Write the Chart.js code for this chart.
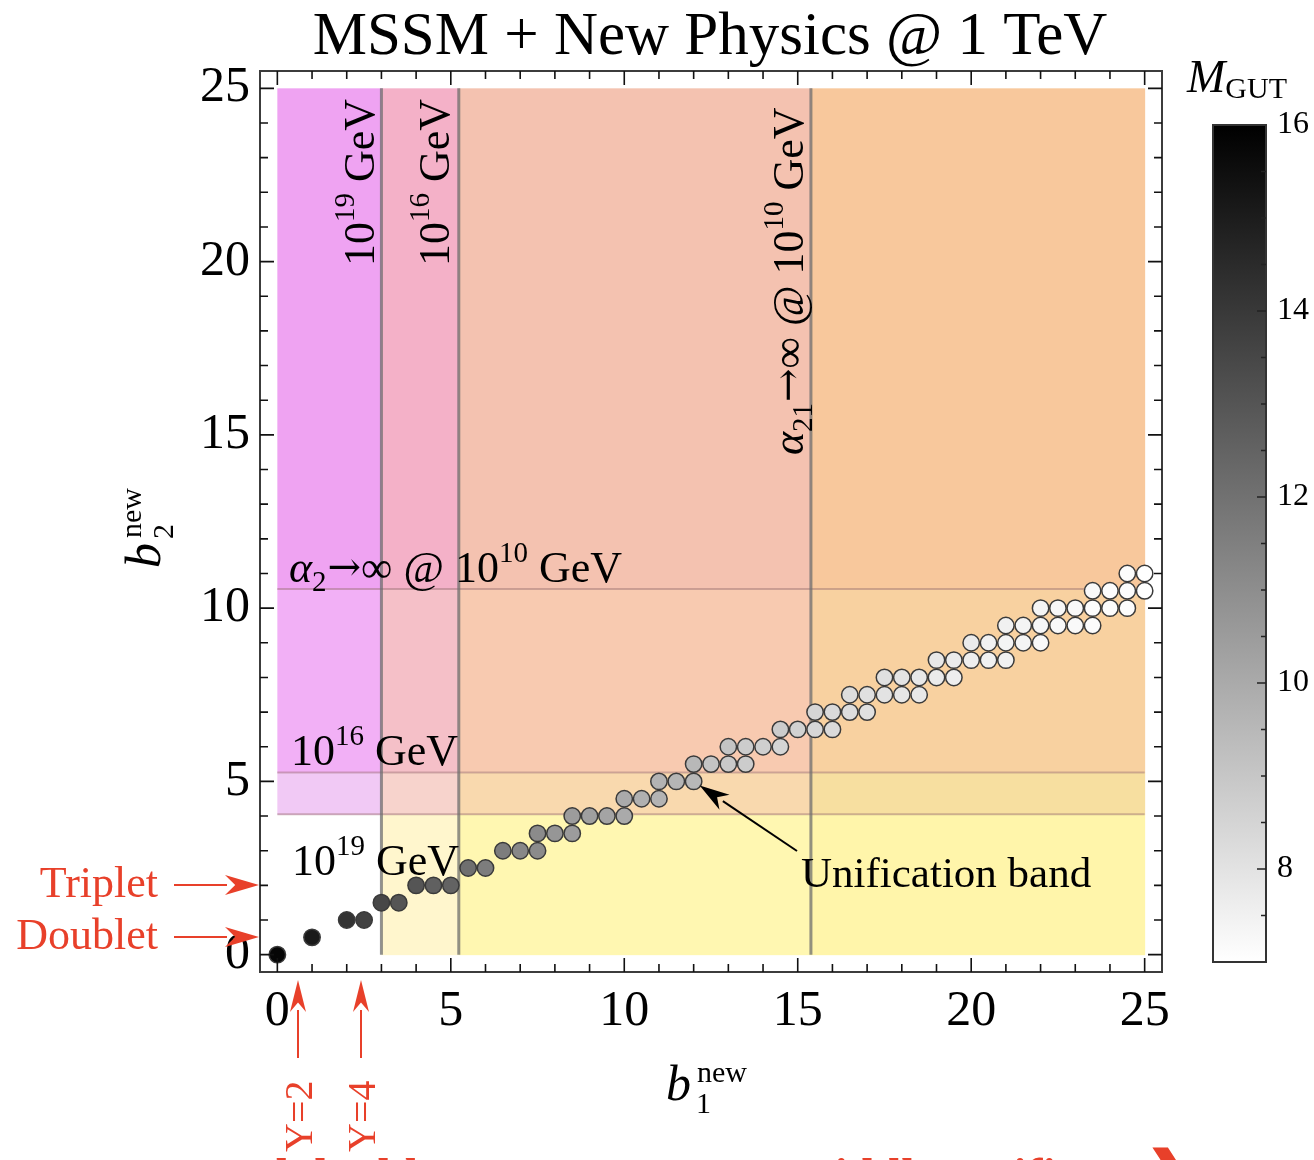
<!DOCTYPE html>
<html><head><meta charset="utf-8">
<script src="https://cdn.jsdelivr.net/npm/chart.js@4.4.1/dist/chart.umd.min.js"></script>
<style>html,body{margin:0;padding:0;background:#fff;overflow:hidden}canvas{display:block}</style>
</head><body>
<canvas id="c" width="1314" height="1160"></canvas>
<script>
// ---- data ----
const b1 = [0, 1, 2,2.5, 3,3.5, 4,4.5,5, 5.5,6, 6.5,7,7.5, 7.5,8,8.5, 8.5,9,9.5,10, 10,10.5,11, 11,11.5,12,
  12,12.5,13,13.5, 13,13.5,14,14.5, 14.5,15,15.5,16, 15.5,16,16.5,17, 16.5,17,17.5,18,18.5,
  17.5,18,18.5,19,19.5, 19,19.5,20,20.5,21, 20,20.5,21,21.5,22, 21,21.5,22,22.5,23,23.5,
  22,22.5,23,23.5,24,24.5, 23.5,24,24.5,25, 24.5,25];
const b2 = [0, 0.5, 1,1, 1.5,1.5, 2,2,2, 2.5,2.5, 3,3,3, 3.5,3.5,3.5, 4,4,4,4, 4.5,4.5,4.5, 5,5,5,
  5.5,5.5,5.5,5.5, 6,6,6,6, 6.5,6.5,6.5,6.5, 7,7,7,7, 7.5,7.5,7.5,7.5,7.5,
  8,8,8,8,8, 8.5,8.5,8.5,8.5,8.5, 9,9,9,9,9, 9.5,9.5,9.5,9.5,9.5,9.5,
  10,10,10,10,10,10, 10.5,10.5,10.5,10.5, 11,11];
const mgut = [15.8, 15.1, 14.2,13.7, 13.5,13.0, 13.0,12.6,12.5, 12.1,11.6, 11.6,11.2,11.1, 11.1,10.7,10.5,
  10.5,10.4,10.2,10.0, 10.0,9.8,9.7, 9.7,9.6,9.5, 9.5,9.1,8.9,8.8, 9.1,8.8,8.7,8.5, 8.8,8.6,8.4,8.3,
  8.5,8.3,8.2,8.1, 8.2,8.1,8.0,7.9,7.8, 8.1,8.0,7.8,7.7,7.6, 7.8,7.7,7.6,7.5,7.5, 7.7,7.5,7.4,7.4,7.2,
  7.5,7.4,7.3,7.2,7.2,7.1, 7.4,7.3,7.2,7.1,7.1,7.1, 7.2,7.1,7.1,7.0, 7.1,7.0];
const xTicks = [0,5,10,15,20,25];
const yTicks = [0,5,10,15,20,25];
const cbTicks = [8,10,12,14,16];
const cbRange = [7,16];
const vLines = [3.0, 5.23, 15.38];
const hLines = [4.05, 5.26, 10.55];
const regionX = [0, 3.0, 5.23, 15.38, 25];
const regionY = [0, 4.05, 5.26, 10.55, 25];
const regionColors = [
  ['#ffffff','#fff6cd','#fff7b1','#fff5aa'],
  ['#f1c9f5','#f7d3cc','#f9d9ae','#f7dfa0'],
  ['#f2b0f6','#f5c0c8','#f8cab0','#f8d1a0'],
  ['#efa3f2','#f4b1c8','#f4c2b0','#f8c89c']
];
const titleText = 'MSSM + New Physics @ 1 TeV';

// ---- helpers ----
const SERIF = '"Liberation Serif", "DejaVu Serif", serif';
function grayFor(m){
  let g = Math.round(255*(cbRange[1]-m)/(cbRange[1]-cbRange[0]));
  g = Math.max(0, Math.min(255, g));
  return 'rgb('+g+','+g+','+g+')';
}
function rich(ctx, parts, x, y){
  let cx = x;
  for (const p of parts){
    ctx.font = (p.it?'italic ':'') + (p.b?'bold ':'') + p.s + 'px ' + (p.f || SERIF);
    ctx.fillText(p.t, cx, y + (p.dy||0));
    cx += ctx.measureText(p.t).width + (p.gap||0);
  }
}
function arrow(ctx, x1, y1, x2, y2, headLen, headHalf, color, lw){
  const a = Math.atan2(y2-y1, x2-x1);
  const bx = x2 - headLen*Math.cos(a), by = y2 - headLen*Math.sin(a);
  ctx.save();
  ctx.strokeStyle = color; ctx.fillStyle = color; ctx.lineWidth = lw;
  ctx.beginPath(); ctx.moveTo(x1,y1); ctx.lineTo(bx + 2*Math.cos(a), by + 2*Math.sin(a)); ctx.stroke();
  ctx.beginPath();
  ctx.moveTo(x2,y2);
  ctx.lineTo(bx - headHalf*Math.sin(a), by + headHalf*Math.cos(a));
  ctx.lineTo(bx + 0.3*headLen*Math.cos(a), by + 0.3*headLen*Math.sin(a));
  ctx.lineTo(bx + headHalf*Math.sin(a), by - headHalf*Math.cos(a));
  ctx.closePath(); ctx.fill();
  ctx.restore();
}
const GeV10 = (e)=>[{t:'10',s:44},{t:e,s:29,dy:-20},{t:' GeV',s:44}];
const ARW = '"DejaVu Serif", serif';
const alphaLabel = (sub)=>[{t:'α',s:44,it:true},{t:sub,s:29,dy:9,gap:1},{t:'→',s:40,f:ARW,dy:-2},{t:'∞',s:44},{t:' @ 10',s:44},{t:'10',s:29,dy:-20},{t:' GeV',s:44}];

const backPlugin = {
  id:'back',
  beforeDatasetsDraw(chart){
    const ctx = chart.ctx, xs = chart.scales.x, ys = chart.scales.y;
    ctx.save();
    for (let r=0;r<4;r++) for (let c=0;c<4;c++){
      const xa = xs.getPixelForValue(regionX[c]), xb = xs.getPixelForValue(regionX[c+1]);
      const ya = ys.getPixelForValue(regionY[r+1]), yb = ys.getPixelForValue(regionY[r]);
      ctx.fillStyle = regionColors[r][c];
      ctx.fillRect(xa, ya, xb-xa+0.5, yb-ya+0.5);
    }
    ctx.strokeStyle = 'rgba(150,110,110,0.45)'; ctx.lineWidth = 2;
    for (const h of hLines){
      const y = ys.getPixelForValue(h);
      ctx.beginPath(); ctx.moveTo(xs.getPixelForValue(0), y); ctx.lineTo(xs.getPixelForValue(25), y); ctx.stroke();
    }
    ctx.strokeStyle = 'rgba(110,110,110,0.75)'; ctx.lineWidth = 3;
    for (const v of vLines){
      const x = xs.getPixelForValue(v);
      ctx.beginPath(); ctx.moveTo(x, ys.getPixelForValue(25)); ctx.lineTo(x, ys.getPixelForValue(0)); ctx.stroke();
    }
    ctx.fillStyle = '#000'; ctx.textBaseline = 'alphabetic'; ctx.textAlign = 'left';
    rich(ctx, alphaLabel('2'), 289, 582);
    rich(ctx, GeV10('16'), 291, 765);
    rich(ctx, GeV10('19'), 292, 875);
    const vert = (parts, x, y)=>{ ctx.save(); ctx.translate(x,y); ctx.rotate(-Math.PI/2); rich(ctx, parts, 0, 0); ctx.restore(); };
    vert(GeV10('19'), 374, 266);
    vert(GeV10('16'), 449, 266);
    vert(alphaLabel('21'), 803, 455);
    ctx.restore();
  },
  afterDatasetsDraw(chart){
    const ctx = chart.ctx, xs = chart.scales.x, ys = chart.scales.y, ca = chart.chartArea;
    ctx.save();
    ctx.strokeStyle = '#3c3c3c'; ctx.lineWidth = 2;
    ctx.strokeRect(ca.left, ca.top, ca.right-ca.left, ca.bottom-ca.top);
    ctx.strokeStyle = '#111'; ctx.lineWidth = 1.6;
    for (let v=0; v<=25; v++){
      const len = (v%5===0) ? 14 : 8;
      const x = xs.getPixelForValue(v), y = ys.getPixelForValue(v);
      ctx.beginPath();
      ctx.moveTo(x, ca.bottom); ctx.lineTo(x, ca.bottom-len);
      ctx.moveTo(x, ca.top); ctx.lineTo(x, ca.top+len);
      ctx.moveTo(ca.left, y); ctx.lineTo(ca.left+len, y);
      ctx.moveTo(ca.right, y); ctx.lineTo(ca.right-len, y);
      ctx.stroke();
    }
    ctx.fillStyle = '#000';
    arrow(ctx, 797, 851, xs.getPixelForValue(12)+6, ys.getPixelForValue(5)+4, 30, 9, '#000', 2);
    ctx.textBaseline = 'alphabetic'; ctx.textAlign = 'left';
    rich(ctx, [{t:'Unification band', s:43}], 801, 887);
    // title
    ctx.textAlign = 'center';
    ctx.font = '61px ' + SERIF; ctx.fillText(titleText, 710, 54);
    ctx.textAlign = 'left';
    // axis titles
    rich(ctx, [{t:'b',s:50,it:true}], 666, 1100);
    ctx.font = '30px ' + SERIF;
    ctx.fillText('new', 697, 1082);
    ctx.fillText('1', 696, 1113);
    ctx.save(); ctx.translate(160, 568); ctx.rotate(-Math.PI/2);
    rich(ctx, [{t:'b',s:50,it:true}], 0, 0);
    ctx.font = '30px ' + SERIF;
    ctx.fillText('new', 30, -19);
    ctx.fillText('2', 29, 13);
    ctx.restore();
    // colour bar
    const cbx = 1213, cbw = 53, cbTop = 125, cbBot = 962;
    const cy = v => cbBot - (v-cbRange[0])/(cbRange[1]-cbRange[0])*(cbBot-cbTop);
    const grad = ctx.createLinearGradient(0, cbTop, 0, cbBot);
    grad.addColorStop(0, grayFor(cbRange[1])); grad.addColorStop(1, grayFor(cbRange[0]));
    ctx.fillStyle = grad; ctx.fillRect(cbx, cbTop, cbw, cbBot-cbTop);
    ctx.strokeStyle = '#333'; ctx.lineWidth = 2; ctx.strokeRect(cbx, cbTop, cbw, cbBot-cbTop);
    ctx.lineWidth = 1.5; ctx.strokeStyle = '#222';
    for (let v = cbRange[0]+0.5; v < cbRange[1]; v += 0.5){
      const major = cbTicks.includes(v);
      ctx.beginPath(); ctx.moveTo(cbx+cbw, cy(v)); ctx.lineTo(cbx+cbw-(major?9:5), cy(v)); ctx.stroke();
    }
    ctx.fillStyle = '#000'; ctx.font = '32px ' + SERIF; ctx.textBaseline = 'middle';
    for (const t of cbTicks) ctx.fillText(String(t), 1277, cy(t));
    ctx.textBaseline = 'alphabetic';
    rich(ctx, [{t:'M',s:46,it:true},{t:'GUT',s:30,dy:6}], 1187, 92);
    // red annotations
    const red = '#e8402a';
    ctx.fillStyle = red;
    ctx.font = '44px ' + SERIF; ctx.textAlign = 'right';
    ctx.fillText('Triplet', 158, 897);
    ctx.fillText('Doublet', 158, 949);
    ctx.textAlign = 'left';
    arrow(ctx, 174, 885, 259, 885, 34, 10, red, 2);
    arrow(ctx, 174, 937, 259, 937, 34, 10, red, 2);
    arrow(ctx, 298, 1058, 298, 980, 32, 8, red, 2);
    arrow(ctx, 361, 1058, 361, 980, 32, 8, red, 2);
    ctx.fillStyle = red;
    const vtext = (t, x, y)=>{ ctx.save(); ctx.translate(x,y); ctx.rotate(-Math.PI/2); ctx.font='40px '+SERIF; ctx.fillText(t,0,0); ctx.restore(); };
    vtext('Y=2', 312, 1152);
    vtext('Y=4', 375, 1152);
    ctx.save();
    ctx.beginPath(); ctx.rect(0, 1100, 1100, 60); ctx.clip();
    ctx.font = 'bold 48px ' + SERIF;
    ctx.fillText('protected doublets  are  sent to  a  middle  unification  line', 95, 1192);
    ctx.restore();
    ctx.font = 'bold 60px ' + SERIF;
    ctx.fillText('❯', 1145, 1194);
    ctx.restore();
  }
};

new Chart(document.getElementById('c'), {
  type: 'scatter',
  data: { datasets: [{
    data: b1.map((x,i)=>({x:x, y:b2[i]})),
    pointRadius: 8.2,
    pointBackgroundColor: mgut.map(grayFor),
    pointBorderColor: '#3a3a3a',
    pointBorderWidth: 1.5,
    clip: false
  }]},
  options: {
    responsive: false, animation: false, devicePixelRatio: 1,
    layout: { padding: { left: 140, right: 152, top: 71, bottom: 88 } },
    plugins: { legend:{display:false}, tooltip:{enabled:false}, title:{display:false} },
    scales: {
      x: { type:'linear', min:-0.5, max:25.5,
        afterBuildTicks: s => { s.ticks = xTicks.map(v=>({value:v})); },
        afterFit: s => { s.height = 100; s.paddingLeft = 0; s.paddingRight = 0; },
        grid:{display:false, drawTicks:false}, border:{display:false},
        ticks:{ font:{family:'Liberation Serif', size:50}, color:'#000', padding:10, maxRotation:0, autoSkip:false } },
      y: { type:'linear', min:-0.5, max:25.5,
        afterBuildTicks: s => { s.ticks = yTicks.map(v=>({value:v})); },
        afterFit: s => { s.width = 120; s.paddingTop = 0; s.paddingBottom = 0; },
        grid:{display:false, drawTicks:false}, border:{display:false},
        ticks:{ font:{family:'Liberation Serif', size:50}, color:'#000', padding:10, autoSkip:false } }
    }
  },
  plugins: [backPlugin]
});
</script>
</body></html>
